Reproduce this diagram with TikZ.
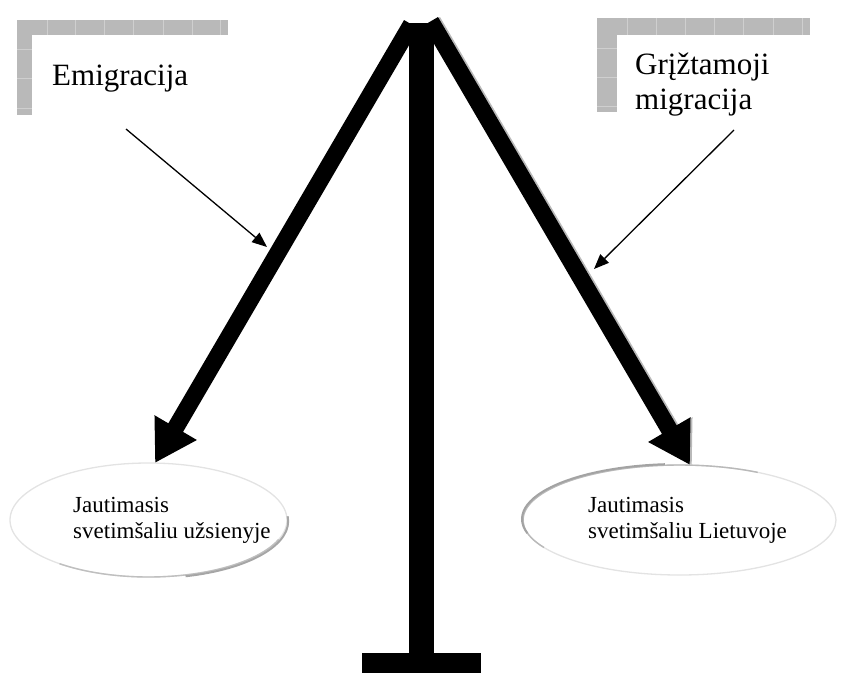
\documentclass[tikz,border=0pt]{standalone}
\usepackage{fontspec}
\setmainfont{Liberation Serif}
\usetikzlibrary{arrows.meta,shapes.geometric}
\begin{document}
\begin{tikzpicture}[x=1pt,y=-1pt,
  heavy/.style={line width=17pt, line cap=butt, -{Triangle[length=41pt,width=46pt]}},
  pointer/.style={line width=1.3pt, -{Triangle[length=15pt,width=12pt]}},
  oval/.style={ellipse, draw=none, fill=white, inner sep=0pt},
  caption/.style={anchor=base west, inner sep=0pt, font=\fontsize{31}{35}\selectfont},
  ovaltext/.style={anchor=base west, inner sep=0pt, font=\fontsize{23}{26}\selectfont},
  barfill/.style={fill=gray!55},
  barline/.style={draw=gray!38, line width=0.7pt},
]
\useasboundingbox (0,0) rectangle (847,673);

% ---- framed captions (L-shaped textured borders) ----
\fill[barfill] (17,20) rectangle (228,35);
\fill[barfill] (17,20) rectangle (32,115);
\foreach \u in {47,75,104,133,163,192,220} \draw[barline] (\u,20) -- (\u,35);
\foreach \v in {49,78,108} \draw[barline] (17,\v) -- (32,\v);

\fill[barfill] (597,18) rectangle (810,35);
\fill[barfill] (597,18) rectangle (617,112);
\foreach \u in {627,656,685,714,743,773,802} \draw[barline] (\u,18) -- (\u,35);
\foreach \v in {48,77,106} \draw[barline] (597,\v) -- (617,\v);

\node[caption] (emig) at (52,85) {Emigracija};
\node[caption] (griz1) at (635,74) {Grįžtamoji};
\node[caption] (griz2) at (635,109) {migracija};

% ---- ovals ----
\node[oval, minimum width=277pt, minimum height=114pt] (leftell) at (148.5,520) {};
\draw[gray!22, line width=1.3pt] (leftell.center) ellipse [x radius=138.5, y radius=57];
\draw[gray!50, line width=1.4pt] (leftell.center) ++(130:138.5 and 57)
  arc[start angle=130, end angle=20, x radius=138.5, y radius=57];
\draw[gray!70, line width=2pt] (leftell.center) ++(1.2,1.2) ++(75:138.5 and 57)
  arc[start angle=75, end angle=-5, x radius=138.5, y radius=57];

\node[oval, minimum width=313pt, minimum height=110pt] (rightell) at (679.5,520) {};
\draw[gray!22, line width=1.3pt] (rightell.center) ellipse [x radius=156.5, y radius=55];
\draw[gray!55, line width=1.4pt] (rightell.center) ++(150:156.5 and 55)
  arc[start angle=150, end angle=300, x radius=156.5, y radius=55];
\draw[gray!72, line width=2pt] (rightell.center) ++(-1,-1) ++(165:156.5 and 55)
  arc[start angle=165, end angle=265, x radius=156.5, y radius=55];

\node[ovaltext] (lt1) at (73,512) {Jautimasis};
\node[ovaltext] (lt2) at (73,538) {svetimšaliu užsienyje};
\node[ovaltext] (rt1) at (588,512) {Jautimasis};
\node[ovaltext] (rt2) at (588,538) {svetimšaliu Lietuvoje};

% ---- balance arms ----
\coordinate (apexL) at (411.4,24.3);
\coordinate (apexR) at (430.7,21.3);
\coordinate (tipL) at (155,463);
\coordinate (tipR) at (690,465);
\draw[heavy, gray!55] ([xshift=2pt]apexR) -- ([xshift=2pt]tipR);
\draw[heavy] (apexL) -- (tipL);
\draw[heavy] (apexR) -- (tipR);

% ---- stand ----
\fill (409,23) rectangle (434,655);
\fill (362,653) rectangle (481,673);

% ---- pointers ----
\coordinate (pL) at (126,129);
\coordinate (qL) at (267,247);
\coordinate (pR) at (734,130);
\coordinate (qR) at (594,269);
\draw[pointer] (pL) -- (qL);
\draw[pointer] (pR) -- (qR);
\end{tikzpicture}
\end{document}
